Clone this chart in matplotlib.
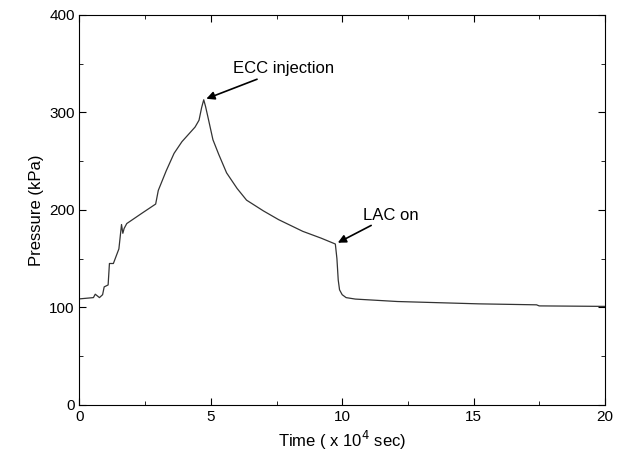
import matplotlib
matplotlib.use("Agg")
import matplotlib.pyplot as plt
from matplotlib.ticker import MultipleLocator

time = [0, 0.53, 0.6, 0.76, 0.88, 0.94, 1.09, 1.14, 1.29, 1.5, 1.6, 1.65, 1.7, 1.8, 2.4, 2.9, 3.0, 3.3, 3.6, 3.9, 4.2, 4.4, 4.55, 4.65, 4.73, 4.8, 4.9, 5.08, 5.3, 5.6, 6.0, 6.36, 7.0, 7.58, 8.5, 9.2, 9.74, 9.8, 9.85, 9.9, 10.0, 10.15, 10.5, 12.1, 15.2, 17.4, 17.5, 20]
pressure = [108.7, 110, 113.5, 110, 113, 121, 123, 145, 145, 160, 185, 176, 181, 186, 197, 206, 220, 240, 258, 270, 279, 285, 292, 305, 313, 306, 294, 272, 257, 238, 222, 210, 199, 190, 178, 171, 165, 150, 128, 118, 113, 110, 108.5, 106, 103.6, 102.6, 101.5, 101]

plt.rcParams['font.family'] = ['Liberation Sans', 'DejaVu Sans']
fig = plt.figure(figsize=(6.21, 4.68), dpi=100)
ax = fig.add_axes([0.128, 0.135, 0.846, 0.833])
ax.plot(time, pressure, color='#333333', lw=0.9)
ax.set_xlim(0, 20)
ax.set_ylim(0, 400)
ax.xaxis.set_major_locator(MultipleLocator(5))
ax.xaxis.set_minor_locator(MultipleLocator(2.5))
ax.yaxis.set_major_locator(MultipleLocator(100))
ax.yaxis.set_minor_locator(MultipleLocator(50))
ax.tick_params(which='both', direction='in', top=True, right=True, labelsize=11)
ax.tick_params(which='major', length=5)
ax.tick_params(which='minor', length=3)
ax.set_xlabel('Time ( x 10$^4$ sec)', fontsize=12)
ax.set_ylabel('Pressure (kPa)', fontsize=12)
ax.annotate('ECC injection', xy=(4.73, 313), xytext=(5.85, 340), fontsize=12,
            arrowprops=dict(arrowstyle='-|>', color='black', lw=1.2, shrinkA=0, shrinkB=2))
ax.annotate('LAC on', xy=(9.74, 165), xytext=(10.8, 190), fontsize=12,
            arrowprops=dict(arrowstyle='-|>', color='black', lw=1.2, shrinkA=0, shrinkB=2))
fig.savefig('out.png', dpi=100)
